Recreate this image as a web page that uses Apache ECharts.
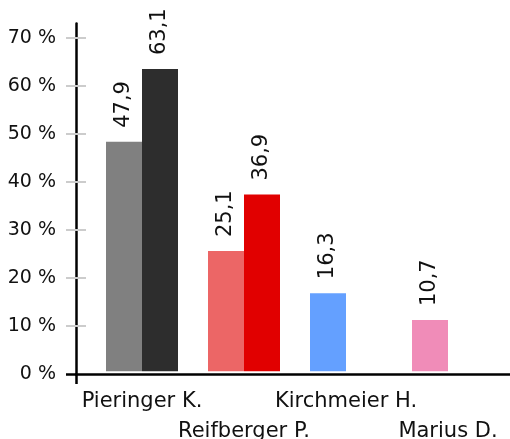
<!DOCTYPE html>
<html>
<head>
<meta charset="utf-8">
<script src="https://cdn.jsdelivr.net/npm/echarts@6/dist/echarts.min.js"></script>
<style>
html,body{margin:0;padding:0;background:#fff;}
#chart{width:510px;height:439px;}
</style>
</head>
<body>
<div id="chart"></div>
<script>
// ---- data ----
var categories = ['Pieringer K.', 'Reifberger P.', 'Kirchmeier H.', 'Marius D.'];
var previousValues = [47.9, 25.1, 16.3, 10.7];
var currentValues = [63.1, 36.9, null, null];
var yTickValues = [0, 10, 20, 30, 40, 50, 60, 70];

// ---- styles ----
var previousColors = ['#808080', '#ec6666', '#64a0ff', '#f08cb8'];
var currentColors = ['#2d2d2d', '#e10000', '#64a0ff', '#f08cb8'];
var FONT = 'DejaVu Sans';
var TXT = '#111';

function withColors(vals, cols) {
  return vals.map(function (v, i) {
    return v == null ? null : { value: v, itemStyle: { color: cols[i] } };
  });
}
function comma(p) { return String(p.value).replace('.', ','); }

var barLabel = {
  show: true, position: 'top', rotate: 90, distance: 14,
  align: 'left', verticalAlign: 'middle',
  fontFamily: FONT, fontSize: 21, color: TXT, formatter: comma
};

var chart = echarts.init(document.getElementById('chart'));
chart.setOption({
  animation: false,
  backgroundColor: '#fff',
  grid: [
    { left: 76, right: 0, top: 23.6, bottom: 65, containLabel: false, outerBoundsMode: 'none' },
    { left: 91, right: 11, top: 21.6, bottom: 67.7, containLabel: false, outerBoundsMode: 'none' }
  ],
  xAxis: [
    {
      gridIndex: 0, type: 'value', min: 0, max: 1, position: 'bottom',
      axisLine: { show: true, lineStyle: { color: '#000', width: 2.5 } },
      axisTick: { show: true, customValues: [0], length: 10, lineStyle: { color: '#000', width: 2.5 } },
      axisLabel: { show: false }, splitLine: { show: false }
    },
    {
      gridIndex: 1, type: 'category', data: categories, position: 'bottom',
      axisLine: { show: false }, axisTick: { show: false }, splitLine: { show: false },
      axisLabel: {
        interval: 0, margin: 15.5, fontFamily: FONT, fontSize: 21, lineHeight: 30, color: TXT,
        formatter: function (v, i) { return i % 2 === 1 ? '\n' + v : v; }
      }
    }
  ],
  yAxis: [
    {
      gridIndex: 0, type: 'value', min: 0, max: 73, position: 'left',
      axisLine: { show: true, lineStyle: { color: '#000', width: 2.5 } },
      axisTick: { show: true, customValues: yTickValues.slice(1), length: 10, lineStyle: { color: '#cccccc', width: 2 } },
      axisLabel: { customValues: yTickValues, formatter: '{value} %', margin: 20, fontFamily: FONT, fontSize: 19, color: TXT },
      splitLine: { show: false }
    },
    {
      gridIndex: 0, type: 'value', min: 0, max: 73, position: 'left',
      axisLine: { show: false },
      axisTick: { show: true, inside: true, customValues: yTickValues.slice(1), length: 10, lineStyle: { color: '#cccccc', width: 2 } },
      axisLabel: { show: false }, splitLine: { show: false }
    },
    {
      gridIndex: 0, type: 'value', min: 0, max: 73, position: 'left',
      axisLine: { show: false },
      axisTick: { show: true, customValues: [0], length: 10, lineStyle: { color: '#000', width: 2.5 } },
      axisLabel: { show: false }, splitLine: { show: false }
    },
    {
      gridIndex: 1, type: 'value', min: 0, max: 73, show: false
    }
  ],
  series: [
    {
      type: 'bar', xAxisIndex: 1, yAxisIndex: 3, barWidth: 36, barGap: '0%',
      data: withColors(previousValues, previousColors), label: barLabel
    },
    {
      type: 'bar', xAxisIndex: 1, yAxisIndex: 3, barWidth: 36, barGap: '0%',
      data: withColors(currentValues, currentColors), label: barLabel
    }
  ]
});
</script>
</body>
</html>
